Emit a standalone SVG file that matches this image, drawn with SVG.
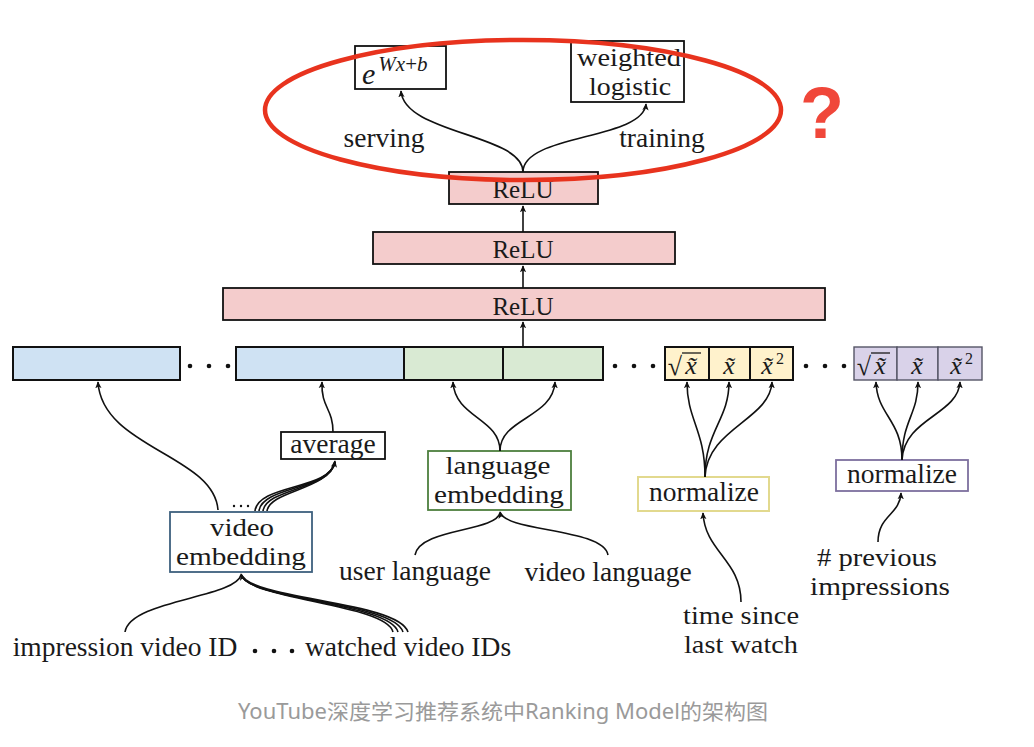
<svg xmlns="http://www.w3.org/2000/svg" width="1034" height="747" viewBox="0 0 1034 747">
<defs>
<marker id="ah" viewBox="0 0 10 10" refX="9" refY="5" markerWidth="7" markerHeight="7" markerUnits="userSpaceOnUse" orient="auto">
<path d="M0,0.5 L10,5 L0,9.5 L2.5,5 Z" fill="#111"/>
</marker>
</defs>
<style>
.t{font-family:"Liberation Serif","DejaVu Serif",serif;font-size:27.5px;fill:#1a1a1a;text-anchor:middle}
.t2{font-family:"Liberation Serif","DejaVu Serif",serif;font-size:26px;fill:#1a1a1a;text-anchor:middle}
.m{font-family:"Liberation Serif","DejaVu Serif",serif;font-style:italic;font-size:26px;fill:#1a1a1a;text-anchor:middle}
.box{fill:#fff;stroke:#111;stroke-width:1.8}
.relu{fill:#f4cccc;stroke:#111;stroke-width:1.8}
.blue{fill:#cfe2f3;stroke:#111;stroke-width:2}
.green{fill:#d9ead3;stroke:#111;stroke-width:2}
.yel{fill:#fff2cc;stroke:#111;stroke-width:2}
.pur{fill:#d9d2e9;stroke:#555566;stroke-width:1.4}
.c{fill:none;stroke:#111;stroke-width:1.6}
.ca{fill:none;stroke:#111;stroke-width:1.6;marker-end:url(#ah)}
.dot{fill:#111}
.sup{font-family:"Liberation Serif","DejaVu Serif",serif;font-size:16px;fill:#1a1a1a;text-anchor:middle}
.rad{font-family:"Liberation Serif","DejaVu Serif",serif;font-size:26px;fill:#1a1a1a;text-anchor:middle}
</style>
<rect width="1034" height="747" fill="#fff"/>

<g id="relu3">
<rect class="relu" x="449" y="172" width="149" height="32"/>
<text class="t" x="523" y="198" style="font-size:25px">ReLU</text>
</g>
<g id="relu2">
<rect class="relu" x="373" y="232" width="302" height="32"/>
<text class="t" x="523" y="258" style="font-size:25px">ReLU</text>
</g>
<g id="relu1">
<rect class="relu" x="223" y="288" width="602" height="32"/>
<text class="t" x="523" y="315" style="font-size:25px">ReLU</text>
</g>

<g id="serve-box">
<rect class="box" x="355" y="46" width="91" height="43"/>
<text x="362" y="84" style="font-family:'Liberation Serif',serif;fill:#1a1a1a"><tspan font-style="italic" font-size="30">e</tspan><tspan font-size="21" dx="3" dy="-13"><tspan font-style="italic">W</tspan><tspan font-style="italic">x</tspan>+<tspan font-style="italic">b</tspan></tspan></text>
</g>
<g id="train-box">
<rect class="box" x="571" y="41" width="113" height="61"/>
<text class="t2" x="629" y="66" textLength="104" lengthAdjust="spacingAndGlyphs">weighted</text>
<text class="t2" x="630" y="95" textLength="82" lengthAdjust="spacingAndGlyphs">logistic</text>
</g>
<g id="labels-top">
<text class="t" x="384" y="147">serving</text>
<text class="t" x="662" y="147">training</text>
</g>

<g id="features">
<rect class="blue" x="13" y="347" width="167" height="33"/>
<rect class="blue" x="236" y="347" width="168" height="33"/>
<rect class="green" x="404" y="347" width="99" height="33"/>
<rect class="green" x="503" y="347" width="100" height="33"/>
<rect class="yel" x="665" y="347" width="44" height="33"/>
<rect class="yel" x="709" y="347" width="41" height="33"/>
<rect class="yel" x="750" y="347" width="43" height="33"/>
<rect class="pur" x="854" y="347" width="43" height="33"/>
<rect class="pur" x="897" y="347" width="41" height="33"/>
<rect class="pur" x="938" y="347" width="44" height="33"/>
<circle class="dot" cx="190" cy="366" r="2.3"/><circle class="dot" cx="209" cy="366" r="2.3"/><circle class="dot" cx="228" cy="366" r="2.3"/>
<circle class="dot" cx="615" cy="366" r="2.3"/><circle class="dot" cx="634" cy="366" r="2.3"/><circle class="dot" cx="653" cy="366" r="2.3"/>
<circle class="dot" cx="806" cy="366" r="2.3"/><circle class="dot" cx="825" cy="366" r="2.3"/><circle class="dot" cx="844" cy="366" r="2.3"/>
<text class="rad" x="675" y="375">√</text>
<line x1="682" y1="353" x2="701" y2="353" stroke="#1a1a1a" stroke-width="1.3"/>
<text class="m" x="691" y="374">x&#x303;</text>
<text class="m" x="729" y="374">x&#x303;</text>
<text class="m" x="767" y="374">x&#x303;</text>
<text class="sup" x="780" y="364">2</text>
<text class="rad" x="864" y="375">√</text>
<line x1="871" y1="353" x2="890" y2="353" stroke="#1a1a1a" stroke-width="1.3"/>
<text class="m" x="880" y="374">x&#x303;</text>
<text class="m" x="917" y="374">x&#x303;</text>
<text class="m" x="956" y="374">x&#x303;</text>
<text class="sup" x="969" y="364">2</text>
</g>

<g id="average">
<rect class="box" x="281" y="432" width="104" height="27"/>
<text class="t" x="333" y="453">average</text>
</g>
<g id="video-embedding">
<rect x="170" y="512" width="142" height="60" fill="#fff" stroke="#3d607e" stroke-width="1.8"/>
<text class="t2" x="242" y="536" textLength="64" lengthAdjust="spacingAndGlyphs">video</text>
<text class="t2" x="241" y="565" textLength="130" lengthAdjust="spacingAndGlyphs">embedding</text>
</g>
<g id="language-embedding">
<rect x="428" y="451" width="143" height="59" fill="#fff" stroke="#4d7f3e" stroke-width="1.8"/>
<text class="t2" x="498" y="474" textLength="105" lengthAdjust="spacingAndGlyphs">language</text>
<text class="t2" x="499" y="503" textLength="130" lengthAdjust="spacingAndGlyphs">embedding</text>
</g>
<g id="normalize-time">
<rect x="638" y="477" width="131" height="34" fill="#fff" stroke="#e2d98e" stroke-width="2"/>
<text class="t" x="704" y="501">normalize</text>
</g>
<g id="normalize-impr">
<rect x="836" y="460" width="132" height="31" fill="#fff" stroke="#7d6f9e" stroke-width="1.8"/>
<text class="t" x="902" y="483">normalize</text>
</g>

<g id="inputs">
<text class="t" x="125" y="656">impression video ID</text>
<circle class="dot" cx="255" cy="651" r="2.3"/><circle class="dot" cx="274" cy="651" r="2.3"/><circle class="dot" cx="292" cy="651" r="2.3"/>
<text class="t" x="408" y="656">watched video IDs</text>
<text class="t" x="415" y="580">user language</text>
<text class="t" x="608" y="581">video language</text>
<text class="t2" x="741" y="624" textLength="116" lengthAdjust="spacingAndGlyphs">time since</text>
<text class="t2" x="741" y="653" textLength="114" lengthAdjust="spacingAndGlyphs">last watch</text>
<text class="t2" x="877" y="566" textLength="120" lengthAdjust="spacingAndGlyphs"># previous</text>
<text class="t2" x="880" y="595" textLength="140" lengthAdjust="spacingAndGlyphs">impressions</text>
</g>

<g id="connectors">
<path class="ca" d="M523,172 C523,134 404,134 401,91"/>
<path class="ca" d="M523,172 C523,134 643,140 646,104"/>
<path class="ca" d="M523,232 L523,206"/>
<path class="ca" d="M523,288 L523,266"/>
<path class="ca" d="M523,347 L523,322"/>
<path class="ca" d="M218,510 C214,455 102,448 98,382"/>
<path class="ca" d="M333,432 C333,408 321,408 322,382"/>
<path class="c" d="M255,511 C258,484 330,490 335,462"/>
<path class="c" d="M259,511 C262,486 330,490 335,462"/>
<path class="c" d="M263,511 C266,488 330,490 335,462"/>
<path class="ca" d="M267,511 C270,490 330,490 335,461"/>
<circle class="dot" cx="234" cy="506" r="1.2"/><circle class="dot" cx="241" cy="506" r="1.2"/><circle class="dot" cx="248" cy="506" r="1.2"/>
<path class="ca" d="M500,451 C500,418 455,418 453,382"/>
<path class="ca" d="M500,451 C500,418 553,418 555,382"/>
<path class="c" d="M415,555 C420,528 495,532 500,513"/>
<path class="ca" d="M608,555 C603,528 505,532 500,512"/>
<path class="c" d="M125,632 C130,600 235,598 241,575"/>
<path class="c" d="M393,632 C386,604 250,600 241,575"/>
<path class="c" d="M398,632 C390,603 250,600 241,575"/>
<path class="c" d="M403,632 C394,602 250,600 241,575"/>
<path class="ca" d="M408,632 C398,601 250,600 241,574"/>
<path class="ca" d="M705,477 C705,430 687,420 687,382"/>
<path class="ca" d="M705,477 C705,430 729,420 729,382"/>
<path class="ca" d="M705,477 C707,428 770,420 772,382"/>
<path class="ca" d="M741,602 C741,560 705,552 703,513"/>
<path class="ca" d="M902,460 C902,420 877,415 876,382"/>
<path class="ca" d="M902,460 C902,420 918,415 918,382"/>
<path class="ca" d="M902,460 C904,418 958,415 960,382"/>
<path class="ca" d="M878,542 C878,515 900,515 901,493"/>
</g>

<g id="highlight">
<ellipse cx="523" cy="110" rx="258" ry="70" fill="none" stroke="#e8331e" stroke-width="4.5"/>
<text x="822" y="138" style="font-family:'Liberation Sans',Arial,sans-serif;font-weight:bold;font-size:72px;fill:#f0473a;text-anchor:middle">?</text>
</g>

<g id="caption">
<text x="503" y="719" textLength="530" lengthAdjust="spacingAndGlyphs" style="font-family:'Noto Sans','Noto Sans CJK SC',sans-serif;font-size:21px;fill:#9a9a9a;text-anchor:middle">YouTube深度学习推荐系统中Ranking Model的架构图</text>
</g>
</svg>
